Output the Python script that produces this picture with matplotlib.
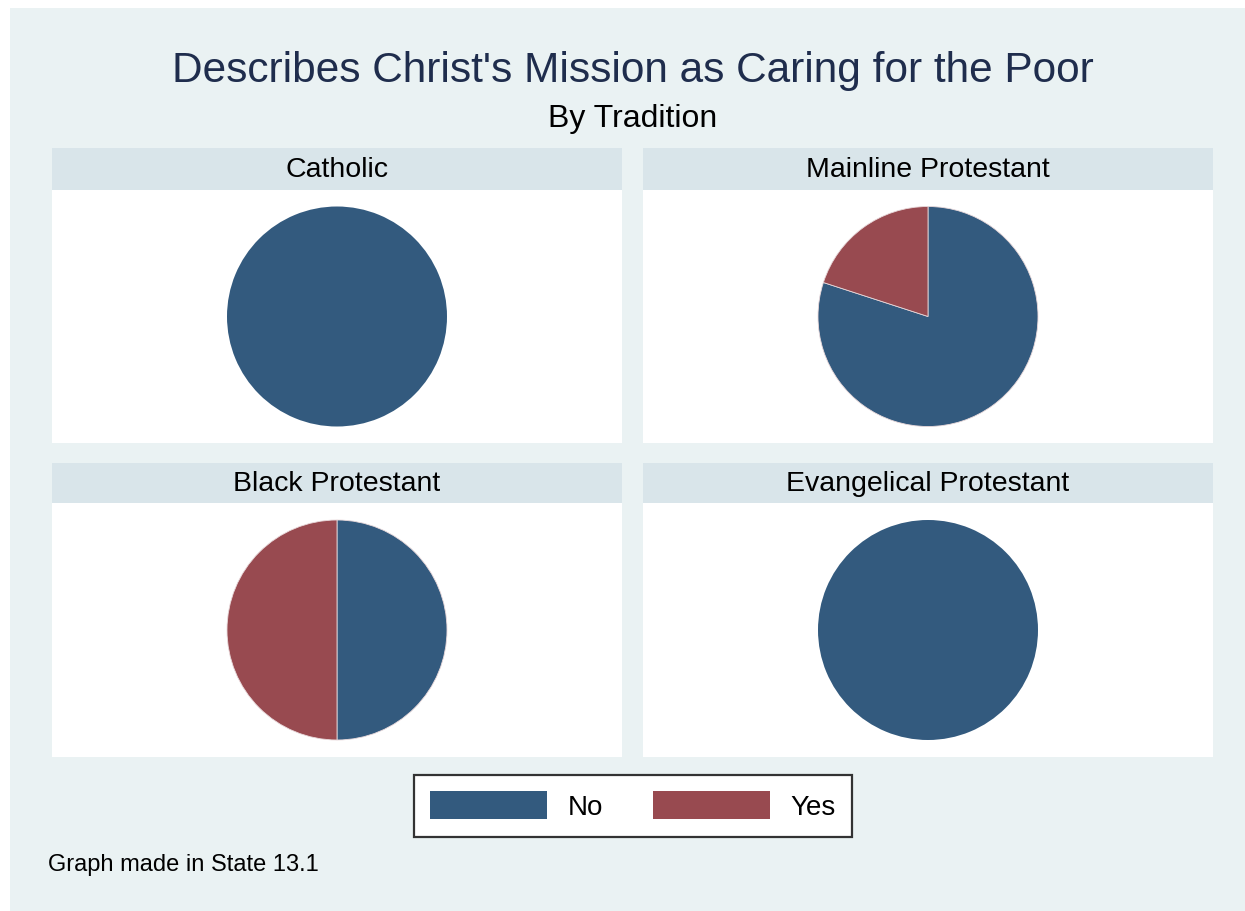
import matplotlib
matplotlib.use("Agg")
import matplotlib.pyplot as plt
from matplotlib.patches import Rectangle, Patch

plt.rcParams['font.family'] = ['Liberation Sans', 'DejaVu Sans']

# data: share answering No / Yes, by tradition
traditions = ["Catholic", "Mainline Protestant", "Black Protestant", "Evangelical Protestant"]
answers = ["No", "Yes"]
share_no = [100, 80, 50, 100]
share_yes = [0, 20, 50, 0]

colors = {"No": "#335a7e", "Yes": "#984a50"}
bg = "#eaf2f3"
strip = "#d9e5ea"

W, H = 1245, 911
fig = plt.figure(figsize=(W / 100, H / 100), dpi=100)
fig.patch.set_facecolor("white")


def frac(x0, y0, x1, y1):
    # pixel box (top-left origin) -> figure fraction [l, b, w, h]
    return [x0 / W, 1 - y1 / H, (x1 - x0) / W, (y1 - y0) / H]


# light background behind everything except a thin white margin
fig.add_artist(Rectangle((10 / W, -0.01), 1, 1.01 - 8 / H, transform=fig.transFigure,
                         facecolor=bg, edgecolor="none", zorder=-10))

fig.text(633 / W, 1 - 71 / H, "Describes Christ's Mission as Caring for the Poor",
         ha="center", va="center", fontsize=30.5, color="#1f2d4d")
fig.text(633 / W, 1 - 119 / H, "By Tradition", ha="center", va="center",
         fontsize=23, color="black")

cols = [(52, 622), (643, 1213)]
rows = [(148, 190, 443), (463, 503, 757)]
R = 110  # pie radius in px

for i, name in enumerate(traditions):
    x0, x1 = cols[i % 2]
    ht, hb, pb = rows[i // 2]
    # strip header
    fig.add_artist(Rectangle((x0 / W, 1 - hb / H), (x1 - x0) / W, (hb - ht) / H,
                             transform=fig.transFigure, facecolor=strip,
                             edgecolor="none"))
    fig.text((x0 + x1) / 2 / W, 1 - (ht + hb) / 2 / H - 1 / H, name, ha="center",
             va="center", fontsize=20.5, color="black")

    ax = fig.add_axes(frac(x0, hb, x1, pb))
    vals = [share_no[i], share_yes[i]]
    keep = [k for k, v in enumerate(vals) if v > 0]
    ax.pie([vals[k] for k in keep], colors=[colors[answers[k]] for k in keep],
           startangle=90, counterclock=False, radius=1,
           wedgeprops=dict(linewidth=0.6 if len(keep) > 1 else 0, edgecolor="#e8d8da"))
    ax.set_aspect("equal")
    ax.set_xlim(-(x1 - x0) / 2 / R, (x1 - x0) / 2 / R)
    ax.set_ylim(-(pb - hb) / 2 / R, (pb - hb) / 2 / R)
    ax.set_axis_on()
    ax.set_frame_on(True)
    ax.set_facecolor("white")
    ax.set_xticks([])
    ax.set_yticks([])
    for s in ax.spines.values():
        s.set_visible(False)

handles = [Patch(facecolor=colors[a], edgecolor="none") for a in answers]
leg = fig.legend(handles, answers, loc="center", ncol=2,
                 bbox_to_anchor=(633 / W, 1 - 806 / H), fontsize=20,
                 handlelength=4.2, handleheight=1.15, handletextpad=0.75,
                 columnspacing=1.8, borderpad=0.6, fancybox=False,
                 framealpha=1, edgecolor="#333333")
leg.get_frame().set_linewidth(1.6)

fig.text(48 / W, 1 - 865 / H, "Graph made in State 13.1", ha="left", va="center",
         fontsize=17, color="black")

fig.savefig("out.png", dpi=100, facecolor=fig.get_facecolor())
